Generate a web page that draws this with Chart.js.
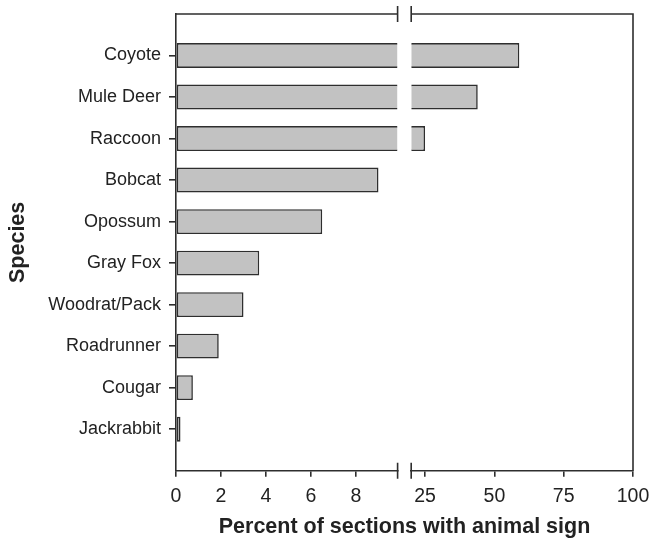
<!DOCTYPE html>
<html>
<head>
<meta charset="utf-8">
<script src="https://cdn.jsdelivr.net/npm/chart.js@4"></script>
<style>
  html, body { margin: 0; padding: 0; background: #fff; }
  #wrap { width: 654px; height: 540px; }
</style>
</head>
<body>
<div id="wrap"><canvas id="c"></canvas></div>
<script>
// ── Daten ───────────────────────────────────────────────────────────────────
const SPECIES = ['Coyote', 'Mule Deer', 'Raccoon', 'Bobcat', 'Opossum', 'Gray Fox',
                 'Woodrat/Pack', 'Roadrunner', 'Cougar', 'Jackrabbit'];
const PERCENT = [59, 44, 25, 9.0, 6.5, 3.7, 3.0, 1.9, 0.75, 0.2];
const X1_TICKS = [0, 2, 4, 6, 8];
const X2_TICKS = [25, 50, 75, 100];
const LEFT_MAX = 9.85;   // Achsenbruch: linker Teil 0..LEFT_MAX
const RIGHT_MIN = 20;    // rechter Teil RIGHT_MIN..100

// Leere Kategorie oben und unten, damit die Balken vom Rahmen Abstand halten.
const LABELS = ['', ...SPECIES, ''];
const pad = arr => [null, ...arr, null];

const INK = '#2e2e2e';
const FILL = '#c2c2c2';
const BW = 1.6;

const leftPart = pad(PERCENT.map(v => Math.min(v, LEFT_MAX)));
const rightPart = pad(PERCENT.map(v => v > LEFT_MAX ? [RIGHT_MIN, v] : null));
const broken = pad(PERCENT.map(v => v > LEFT_MAX));

// Rahmen oben/rechts und Bruchmarken an den Stellen, wo die Achse springt.
const frame = {
  id: 'frame',
  afterDraw(ch) {
    const { ctx, chartArea: a, scales } = ch;
    const xa = scales.x1.right, xb = scales.x2.left;
    ctx.save();
    ctx.strokeStyle = INK;
    ctx.lineWidth = BW;
    ctx.beginPath();
    ctx.moveTo(a.left, a.top); ctx.lineTo(xa, a.top);
    ctx.moveTo(xb, a.top); ctx.lineTo(a.right, a.top); ctx.lineTo(a.right, a.bottom);
    [a.top, a.bottom].forEach(y => {
      [xa, xb].forEach(x => { ctx.moveTo(x, y - 8); ctx.lineTo(x, y + 8); });
    });
    ctx.stroke();
    ctx.restore();
  },
};

Chart.defaults.font.family = "'Liberation Sans', Arial, sans-serif";
Chart.defaults.color = '#222';

// Feste Achsenmasse, damit die Plotflaeche wie im Original sitzt.
const fitX = s => { s.height = 40; s.paddingLeft = 0; s.paddingRight = 0; };

const xCommon = {
  type: 'linear', position: 'bottom', stack: 'brk',
  border: { color: INK, width: BW },
  grid: { drawOnChartArea: false, tickLength: 6, color: INK, lineWidth: BW },
  ticks: { font: { size: 19.5 }, padding: 8, maxRotation: 0 },
  afterFit: fitX,
};

new Chart(document.getElementById('c'), {
  type: 'bar',
  data: {
    labels: LABELS,
    datasets: [
      { data: leftPart, xAxisID: 'x1', yAxisID: 'y', grouped: false,
        backgroundColor: FILL, borderColor: INK, borderSkipped: false,
        borderWidth: c => broken[c.dataIndex]
          ? { top: BW, bottom: BW, left: BW, right: 0 } : BW },
      { data: rightPart, xAxisID: 'x2', yAxisID: 'y', grouped: false,
        backgroundColor: FILL, borderColor: INK, borderSkipped: false,
        borderWidth: { top: BW, bottom: BW, left: 0, right: BW } },
    ],
  },
  options: {
    indexAxis: 'y',
    responsive: true, maintainAspectRatio: false, animation: false,
    layout: { padding: { left: 0, right: 21, top: 14, bottom: 0 } },
    datasets: { bar: { barPercentage: 0.6, categoryPercentage: 1 } },
    scales: {
      y: {
        type: 'category', position: 'left', offset: false,
        border: { color: INK, width: BW },
        grid: { drawOnChartArea: false, offset: false, tickLength: 7, color: INK, lineWidth: BW },
        ticks: { font: { size: 18 }, padding: 8 },
        afterBuildTicks: s => { s.ticks = s.ticks.filter(t => LABELS[t.value]); },
        afterFit: s => { s.width = 176; s.paddingTop = 0; s.paddingBottom = 0; },
        title: { display: true, text: 'Species', font: { size: 21.5, weight: 'bold' },
                 padding: { top: 5, bottom: 0 } },
      },
      x1: { ...xCommon, min: 0, max: LEFT_MAX, stackWeight: 221.6,
            afterBuildTicks: s => { s.ticks = X1_TICKS.map(v => ({ value: v })); } },
      xGap: { type: 'linear', position: 'bottom', stack: 'brk', stackWeight: 13.6,
              min: 0, max: 1,
              border: { display: false }, grid: { display: false },
              ticks: { display: false }, afterFit: fitX },
      x2: { ...xCommon, min: RIGHT_MIN, max: 100, stackWeight: 221.8,
            afterBuildTicks: s => { s.ticks = X2_TICKS.map(v => ({ value: v })); } },
    },
    plugins: {
      legend: { display: false }, tooltip: { enabled: false },
      // Achsentitel ueber beide Teilachsen: als Titel unten, auf die Plotbreite zentriert.
      title: { display: true, position: 'bottom', fullSize: false,
               text: 'Percent of sections with animal sign', color: '#222',
               font: { size: 21.5, weight: 'bold' }, padding: { top: 3.5, bottom: 0 } },
    },
  },
  plugins: [frame],
});
</script>
</body>
</html>
